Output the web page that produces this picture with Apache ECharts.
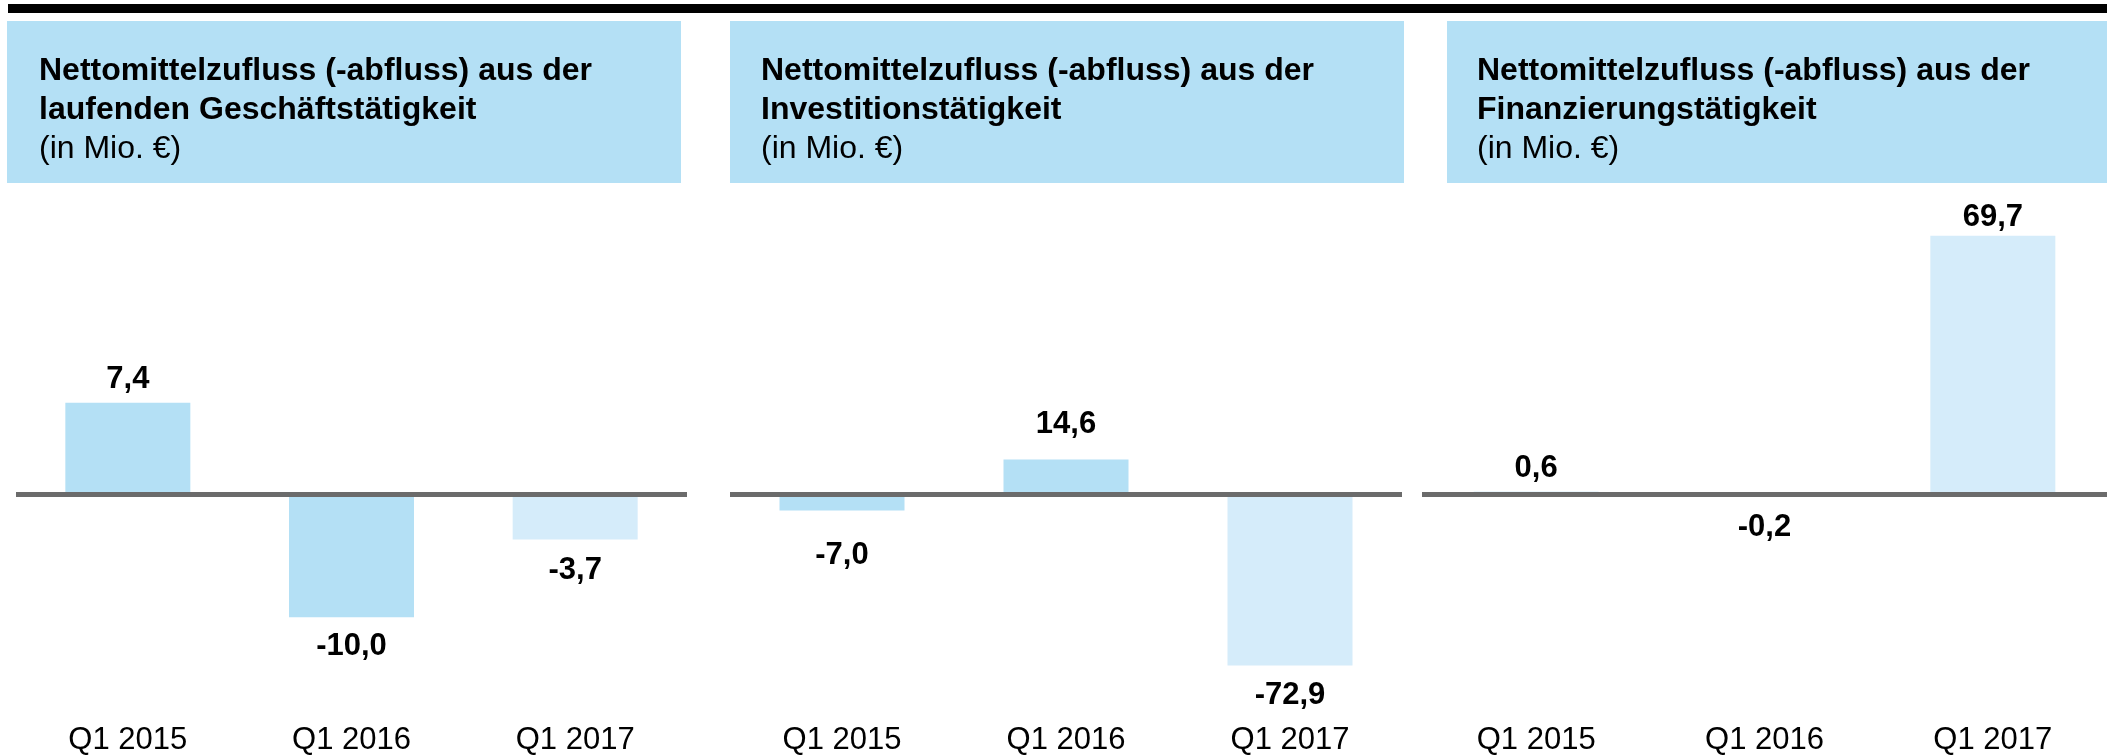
<!DOCTYPE html>
<html>
<head>
<meta charset="utf-8">
<script src="https://cdn.jsdelivr.net/npm/echarts@6/dist/echarts.min.js"></script>
<style>
  html, body { margin: 0; padding: 0; background: #fff; }
  #chart { width: 2107px; height: 756px; }
</style>
</head>
<body>
<div id="chart"></div>
<script>
// Kategorien und Werte (in Mio. €)
var categories = ['Q1 2015', 'Q1 2016', 'Q1 2017'];
var operatingCF = [7.4, -10.0, -3.7];
var investingCF = [-7.0, 14.6, -72.9];
var financingCF = [0.6, -0.2, 69.7];

var titleLines = [
  ['Nettomittelzufluss (-abfluss) aus der', 'laufenden Geschäftstätigkeit'],
  ['Nettomittelzufluss (-abfluss) aus der', 'Investitionstätigkeit'],
  ['Nettomittelzufluss (-abfluss) aus der', 'Finanzierungstätigkeit']
];
var unitText = '(in Mio. €)';

var FONT = '"Liberation Sans", Arial, Helvetica, sans-serif';
var BAR_DARK = '#b4e0f5';
var BAR_LIGHT = '#d5ecfa';

// Layout je Panel (gaps = Abstand der Wertelabels zum Balken)
var panels = [
  { values: operatingCF, left: 16, width: 671, min: -16.64, max: 23.85, box: [7, 674], textX: 39, gaps: [8, 14, 15] },
  { values: investingCF, left: 730, width: 672, min: -87.08, max: 124.79, box: [730, 674], textX: 761, gaps: [30, 20, 14] },
  { values: financingCF, left: 1422, width: 685, min: -55.39, max: 79.38, box: [1447, 660], textX: 1477, gaps: [8, 17, 3] }
];

function fmt(v) {
  return v.toFixed(1).replace('.', ',');
}

var chart = echarts.init(document.getElementById('chart'));

var grids = [], xAxes = [], yAxes = [], series = [], graphics = [];

// schwarze Linie oben
graphics.push({
  type: 'rect',
  shape: { x: 8, y: 4, width: 2099, height: 9 },
  style: { fill: '#000' }
});

panels.forEach(function (p, i) {
  grids.push({ left: p.left, width: p.width, top: 200, bottom: 56 });
  xAxes.push({
    type: 'category',
    gridIndex: i,
    data: categories,
    position: 'bottom',
    axisLine: { show: false, onZero: false },
    axisTick: { show: false },
    axisLabel: { color: '#000', fontSize: 31, fontFamily: FONT, margin: 26 }
  });
  yAxes.push({
    type: 'value',
    gridIndex: i,
    min: p.min,
    max: p.max,
    show: false,
    splitLine: { show: false }
  });
  series.push({
    type: 'bar',
    xAxisIndex: i,
    yAxisIndex: i,
    barWidth: 125,
    data: p.values.map(function (v, k) {
      return {
        value: v,
        itemStyle: { color: k === 2 ? BAR_LIGHT : BAR_DARK },
        label: { position: v >= 0 ? 'top' : 'bottom', distance: p.gaps[k] }
      };
    }),
    label: {
      show: true,
      color: '#000',
      fontSize: 31,
      fontWeight: 'bold',
      fontFamily: FONT,
      formatter: function (d) { return fmt(d.value); }
    },
    markLine: {
      silent: true,
      symbol: ['none', 'none'],
      label: { show: false },
      lineStyle: { color: '#6b6b6b', width: 5, type: 'solid' },
      data: [{ yAxis: 0 }]
    }
  });

  // Kopfbox
  graphics.push({
    type: 'rect',
    shape: { x: p.box[0], y: 21, width: p.box[1], height: 162 },
    style: { fill: BAR_DARK }
  });
  graphics.push({
    type: 'text',
    x: p.textX,
    y: 52,
    style: {
      text: '{b|' + titleLines[i][0] + '}\n{b|' + titleLines[i][1] + '}\n{n|' + unitText + '}',
      fill: '#000',
      rich: {
        b: { fontSize: 32, fontWeight: 'bold', fontFamily: FONT, lineHeight: 39, fill: '#000' },
        n: { fontSize: 32, fontFamily: FONT, lineHeight: 39, fill: '#000' }
      }
    }
  });
});

chart.setOption({
  animation: false,
  grid: grids,
  xAxis: xAxes,
  yAxis: yAxes,
  series: series,
  graphic: graphics
});
</script>
</body>
</html>
